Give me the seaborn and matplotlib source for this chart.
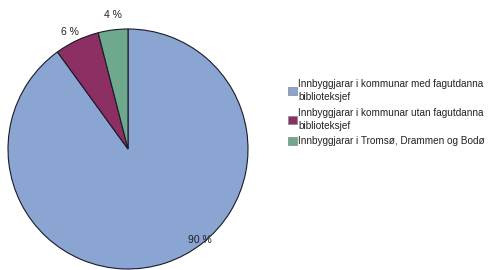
import matplotlib
matplotlib.use("Agg")
import matplotlib.pyplot as plt
import seaborn as sns
from matplotlib.patches import Patch

sns.set_style("white")
plt.rcParams['font.family'] = ['Liberation Sans', 'DejaVu Sans']

categories = ["Innbyggjarar i kommunar med fagutdanna\nbiblioteksjef",
              "Innbyggjarar i kommunar utan fagutdanna\nbiblioteksjef",
              "Innbyggjarar i Tromsø, Drammen og Bodø"]
values = [90, 6, 4]
labels = ["90 %", "6 %", "4 %"]
colors = ["#8aa5d1", "#8c2f62", "#6fa98d"]

fig = plt.figure(figsize=(5, 2.7), dpi=100)
ax = fig.add_axes([8/500, 1/270, 240/500, 240/270])
wedges, texts = ax.pie(values, colors=colors, startangle=90, counterclock=False,
                       labels=labels, labeldistance=1.1,
                       wedgeprops=dict(edgecolor="#1a1a2a", linewidth=0.8),
                       textprops=dict(fontsize=7.5, color="#222222"))
label_pos = [(0.60, -0.76), (-0.48, 0.975), (-0.125, 1.12)]
for t, p in zip(texts, label_pos):
    t.set_position(p)
    t.set_ha("center")
    t.set_va("center")
ax.set_xlim(-1, 1)
ax.set_ylim(-1, 1)
ax.set_aspect("equal")
ax.axis("off")

handles = [Patch(facecolor=c, edgecolor="#888888", linewidth=0.5) for c in colors]
leg = fig.legend(handles, categories, loc="upper left", bbox_to_anchor=(288/500, 1 - 79/270),
                 frameon=False, fontsize=7.2, handlelength=0.85, handleheight=0.9,
                 handletextpad=0.2, labelspacing=0.55, borderpad=0, borderaxespad=0)
for t in leg.get_texts():
    t.set_linespacing(1.4)
    t.set_color("#222222")

fig.savefig("out.png", dpi=100)
